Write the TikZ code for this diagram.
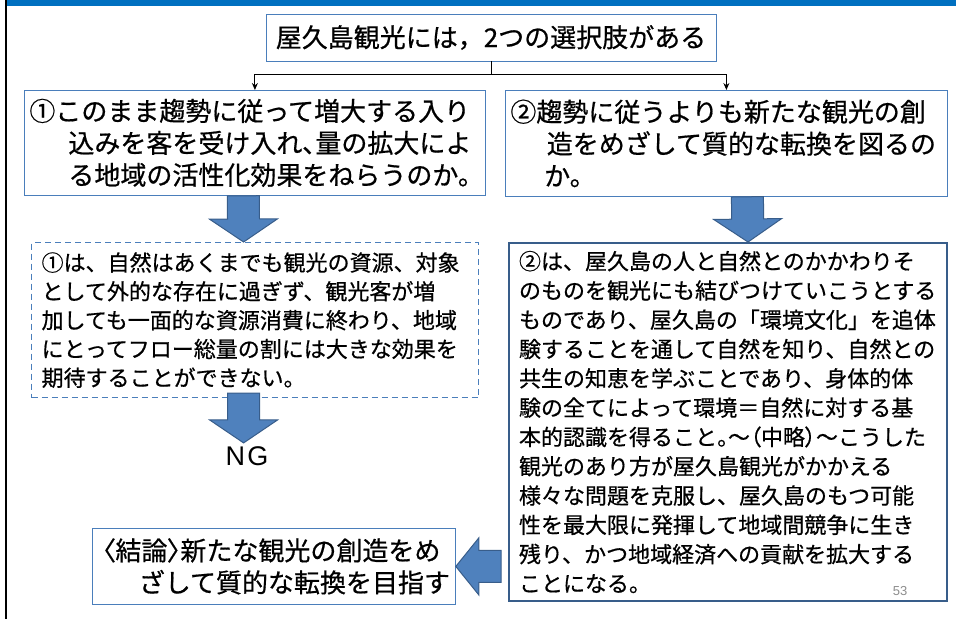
\documentclass[tikz,border=0pt]{standalone}
\usepackage{fontspec}
\setmainfont{Noto Sans CJK JP}[FakeBold=0.6]
\newfontfamily\jpp[RawFeature=+palt,FakeBold=0.6]{Noto Sans CJK JP}
\newfontfamily\ngfont[LetterSpace=8]{Liberation Sans}
\newfontfamily\numfont{Liberation Sans}
\usetikzlibrary{calc,arrows.meta}

\definecolor{boxblue}{HTML}{4A7EBB}
\definecolor{darkblue}{HTML}{385D8A}
\definecolor{arrowfill}{HTML}{4F81BD}
\definecolor{hdrblue}{HTML}{0070C0}
\definecolor{pgray}{HTML}{8C8C8C}

\tikzset{
  box/.style={draw=boxblue, line width=0.8pt, rectangle, anchor=north west,
    inner xsep=5pt, inner ysep=0pt, align=left, font=\fontsize{26}{32}\selectfont},
  notebox/.style={box, inner xsep=10pt, font=\fontsize{22}{29.3}\selectfont},
  blockarrow/.style={fill=arrowfill, draw=darkblue, line width=1pt, line join=miter},
  link/.style={line width=0.9pt, -{Stealth[length=7pt,width=6pt]}}
}

% block arrow: [head half width]{tail}{tip}
\newcommand\blockarr[3][34pt]{%
  \coordinate (hd) at ($(#3)!23pt!(#2)$);
  \draw[blockarrow] ($(#2)!16pt!90:(#3)$) -- ($(hd)!16pt!-90:(#2)$)
    -- ($(hd)!#1!-90:(#2)$) -- (#3) -- ($(hd)!#1!90:(#2)$)
    -- ($(hd)!16pt!90:(#2)$) -- ($(#2)!16pt!-90:(#3)$) -- cycle;}

\begin{document}
\begin{tikzpicture}[x=1pt,y=-1pt]
  \useasboundingbox (0,0) rectangle (956,619);
  \fill[hdrblue] (7,0) rectangle (956,6);
  \draw[line width=2pt] (6,0) -- (6,619);

  \node[box, anchor=center, align=center, minimum width=450pt, minimum height=47pt]
    (top) at (491,37.5) {屋久島観光には，2つの選択肢がある};

  \node[box, minimum width=461pt, minimum height=105pt, text width=451pt] (b1) at (24,90)
    {①このまま趨勢に従って増大する入り\\
     \hspace*{1.5em}込みを客を受け入れ{\jpp 、}量の拡大によ\\
     \hspace*{1.5em}る地域の活性化効果をねらうのか。};
  \node[box, minimum width=442pt, minimum height=106pt, text width=432pt] (b2) at (505,90)
    {②趨勢に従うよりも新たな観光の創\\
     \hspace*{1.4em}造をめざして質的な転換を図るの\\
     \hspace*{1.3em}か。};

  \node[notebox, dash pattern=on 6pt off 4pt, line width=1.2pt, font=\fontsize{22}{28.8}\selectfont,
    minimum width=447pt, minimum height=155pt, text width=427pt] (d1) at (31,242)
    {①は、自然はあくまでも観光の資源、対象\\
     として外的な存在に過ぎず、観光客が増\\
     加しても一面的な資源消費に終わり、地域\\
     にとってフロー総量の割には大きな効果を\\
     期待することができない。};
  \node[notebox, draw=darkblue, line width=2pt,
    minimum width=438pt, minimum height=358pt, text width=418pt] (d2) at (508,242)
    {②は、屋久島の人と自然とのかかわりそ\\
     のものを観光にも結びつけていこうとする\\
     ものであり、屋久島の「環境文化」を追体\\
     験することを通して自然を知り、自然との\\
     共生の知恵を学ぶことであり、身体的体\\
     験の全てによって環境＝自然に対する基\\
     本的認識を得ること{\jpp 。}～{\jpp （}中略{\jpp ）}～こうした\\
     観光のあり方が屋久島観光がかかえる\\
     様々な問題を克服し、屋久島のもつ可能\\
     性を最大限に発揮して地域間競争に生き\\
     残り、かつ地域経済への貢献を拡大する\\
     ことになる。};

  \node[font=\ngfont\fontsize{27}{30}\selectfont] (ng) at (247,456) {NG};

  \node[box, inner xsep=10pt, minimum width=363pt, minimum height=76pt, text width=343pt]
    (c) at (92,528)
    {{\jpp 〈}結論{\jpp 〉}新たな観光の創造をめ\\
     \hspace*{1.4em}ざして質的な転換を目指す};

  \node[font=\numfont\fontsize{13}{13}\selectfont, text=pgray] (pnum) at (900,591) {53};

  % split connector
  \draw[line width=0.9pt] (top.south) -- ++(0,13) coordinate (split);
  \draw[line width=0.9pt] (split -| b1.north) -- (split -| b2.north);
  \draw[link] (split -| b1.north) -- (b1.north);
  \draw[link] (split -| b2.north) -- (b2.north);

  % block arrows
  \coordinate (a1s) at ($(b1.south)+(-11.5,0)$);
  \coordinate (a1t) at ($(d1.north)+(-11.5,0)$);
  \coordinate (a2s) at ($(d1.south)+(-11.5,-5)$);
  \coordinate (a2t) at (a2s |- ng.north);
  \coordinate (a3s) at ($(b2.south)+(21,0)$);
  \coordinate (a3t) at ($(d2.north)+(20,0)$);
  \coordinate (a4s) at ($(c.east -| d2.west)+(-7,0)$);
  \blockarr{a1s}{a1t}
  \blockarr{a2s}{a2t}
  \blockarr{a3s}{a3t}
  \blockarr[28.5pt]{a4s}{c.east}
\end{tikzpicture}
\end{document}
